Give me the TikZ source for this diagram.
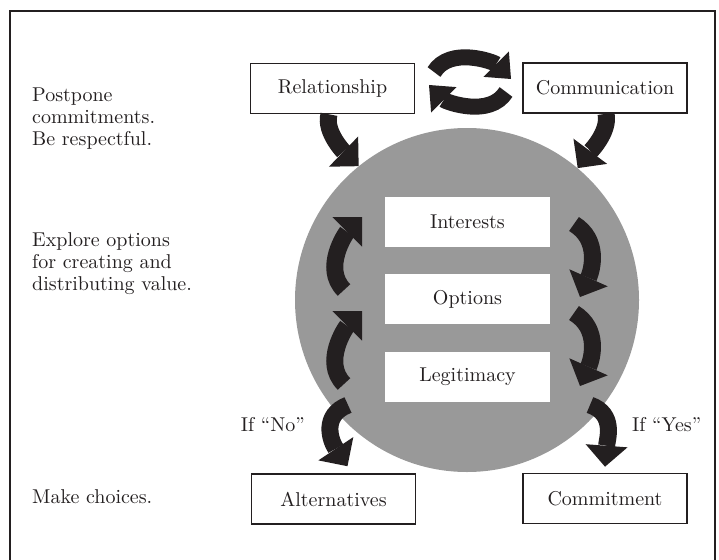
\documentclass[tikz,border=0pt]{standalone}
\usepackage{fontspec}
\setmainfont{lmroman10-regular.otf}
\usetikzlibrary{arrows.meta,calc}
\definecolor{ink}{RGB}{35,31,32}
\definecolor{disc}{RGB}{153,153,153}
\begin{document}
\begin{tikzpicture}[x=1pt,y=-1pt,
  every node/.style={font=\fontsize{20}{22}\selectfont, text=ink},
  box/.style={draw=ink, line width=1.6pt, fill=white, minimum width=164pt, minimum height=50pt, inner sep=0pt},
  inbox/.style={fill=white, minimum width=165pt, minimum height=50pt, inner sep=0pt},
  fat/.style={draw=ink, line width=17pt, -{Triangle[width=42pt,length=21pt,line width=0pt]}},
  cyc/.style={draw=ink, line width=16pt, -{Triangle[width=36pt,length=21pt,line width=0pt]}},
  note/.style={align=left, inner sep=0pt, anchor=west}
]
\useasboundingbox (0,0) rectangle (719,559);
\draw[ink, line width=2pt] (10,570) -- (10,11) -- (715,11) -- (715,570);

\node[circle, fill=disc, minimum size=344pt, inner sep=0pt] (disc) at (467,300) {};

\node[inbox] (int) at (467.5,222) {Interests};
\node[inbox] (opt) at (467.5,299) {Options};
\node[inbox] (leg) at (467.5,377) {Legitimacy};

% inner cycle arrows
\coordinate (ul1) at (344,290); \coordinate (ul2) at (362,217);
\coordinate (ll1) at (344,384); \coordinate (ll2) at (362,311);
\coordinate (ur1) at (574,224); \coordinate (ur2) at (580,297);
\coordinate (lr1) at (574,313); \coordinate (lr2) at (580,386);
\draw[fat] (ul1) .. controls (322,268) and (346,233) .. (ul2);
\draw[fat] (ll1) .. controls (322,362) and (346,327) .. (ll2);
\draw[fat] (ur1) .. controls (600,240) and (592,270) .. (ur2);
\draw[fat] (lr1) .. controls (600,329) and (592,359) .. (lr2);

\node[box] (rel) at (332.5,88.5) {Relationship};
\node[box] (com) at (605,88) {Communication};
\node[box] (alt) at (333.5,499) {Alternatives};
\node[box] (cmt) at (605,498.5) {Commitment};

% top cycle
\coordinate (c1s) at (434,72); \coordinate (c1e) at (511,79);
\coordinate (c2s) at (506,92); \coordinate (c2e) at (429,85);
\draw[cyc] (c1s) .. controls (450,46) and (494,62) .. (c1e);
\draw[cyc] (c2s) .. controls (490,118) and (446,102) .. (c2e);

% into circle
\draw[fat] ($(rel.south)+(-3.5,0)$) .. controls (324,132) and (345,153) .. (disc.129.5);
\draw[fat] ($(com.south)+(1,0)$) .. controls (610,132) and (589,153) .. (disc.50.5);

% out of circle
\coordinate (nos) at (348,405);
\coordinate (yess) at (590,405);
\draw[fat] (nos) .. controls (322,415) and (330,440) .. ($(alt.north)+(14,-7)$);
\draw[fat] (yess) .. controls (616,414) and (607,440) .. ($(cmt.north)+(0,-6)$);

\node[note] (n1) at (32,119) {Postpone\\commitments.\\Be respectful.};
\node[note] (n2) at (32,264) {Explore options\\for creating and\\distributing value.};
\node[note] (n3) at (32,497) {Make choices.};
\node[anchor=east, inner sep=0pt] (no) at (305,425) {If “No”};
\node[anchor=west, inner sep=0pt] (yes) at (632,425) {If “Yes”};
\end{tikzpicture}
\end{document}
